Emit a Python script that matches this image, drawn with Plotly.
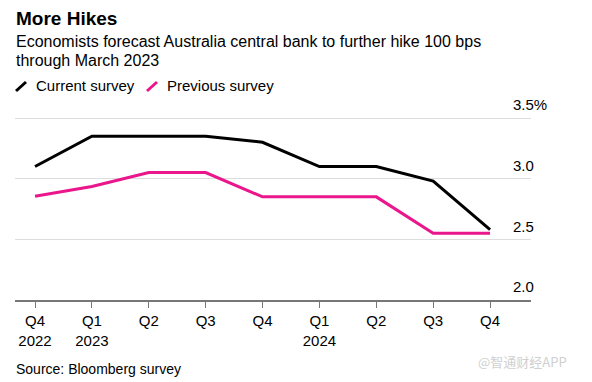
import plotly.graph_objects as go

quarters = ["Q4<br>2022", "Q1<br>2023", "Q2", "Q3", "Q4", "Q1<br>2024", "Q2", "Q3", "Q4"]
current_survey = [3.10, 3.35, 3.35, 3.35, 3.30, 3.10, 3.10, 2.98, 2.58]
previous_survey = [2.855, 2.935, 3.05, 3.05, 2.85, 2.85, 2.85, 2.55, 2.55]
y_tickvals = [2.0, 2.5, 3.0, 3.5]
y_ticktext = ["2.0", "2.5", "3.0", "3.5%"]

BLACK = "#000000"
PINK = "#ea168b"
FONT = "Liberation Sans, Arial, sans-serif"

x_idx = list(range(len(quarters)))

fig = go.Figure()
fig.add_trace(go.Scatter(x=x_idx, y=previous_survey, mode="lines",
                         line=dict(color=PINK, width=3), name="Previous survey",
                         showlegend=False, hoverinfo="skip"))
fig.add_trace(go.Scatter(x=x_idx, y=current_survey, mode="lines",
                         line=dict(color=BLACK, width=3), name="Current survey",
                         showlegend=False, hoverinfo="skip"))

L, R, T, B = 15, 61, 116, 82
fig.update_layout(
    width=592, height=382,
    margin=dict(l=L, r=R, t=T, b=B),
    paper_bgcolor="white", plot_bgcolor="white",
    font=dict(family=FONT, color="#000", size=15),
    xaxis=dict(
        range=[-0.352, 8.72], tickvals=x_idx, ticktext=quarters,
        showgrid=False, zeroline=False, showline=True, linecolor="#777", linewidth=2,
        ticks="outside", ticklen=6, tickcolor="#777", tickwidth=1,
        tickfont=dict(size=15, family=FONT, color="#000"), fixedrange=True,
    ),
    yaxis=dict(
        range=[2.0, 3.5 + 2 / 121.33], tickvals=y_tickvals, ticktext=y_ticktext, side="right",
        showgrid=True, gridcolor="#dddddd", gridwidth=1, zeroline=False, showline=False,
        ticks="", tickfont=dict(size=15, family=FONT, color="#000"),
        ticklabelstandoff=-19, ticklabelshift=-13, fixedrange=True,
    ),
    showlegend=False,
)

plot_w = 592 - L - R
plot_h = 382 - T - B

def px_x(v):
    return (v - L) / plot_w

def px_y(v):
    return (382 - B - v) / plot_h

texts = [
    ("<b>More Hikes</b>", 14, 18, dict(size=19)),
    ("Economists forecast Australia central bank to further hike 100 bps", 14, 41, dict(size=16)),
    ("through March 2023", 14, 60, dict(size=16)),
    ("Current survey", 34, 85, dict(size=15)),
    ("Previous survey", 165, 85, dict(size=15)),
    ("Source: Bloomberg survey", 14, 369, dict(size=14)),
    ("@智通财经APP", 476, 361, dict(size=13, color="#d0d0d0", family="Noto Sans CJK SC")),
]
for text, x, y, font in texts:
    fig.add_annotation(xref="paper", yref="paper", xanchor="left", yanchor="middle",
                       x=px_x(x), y=px_y(y), text=text, showarrow=False, font=font)

for x0, col in [(16, BLACK), (147, PINK)]:
    fig.add_shape(type="line", xref="paper", yref="paper",
                  x0=px_x(x0), y0=px_y(91), x1=px_x(x0 + 10), y1=px_y(82),
                  line=dict(color=col, width=3))

fig.write_html("out.html", config={"displayModeBar": False},
               post_script="document.body.style.margin='0';document.body.style.overflow='hidden';")
